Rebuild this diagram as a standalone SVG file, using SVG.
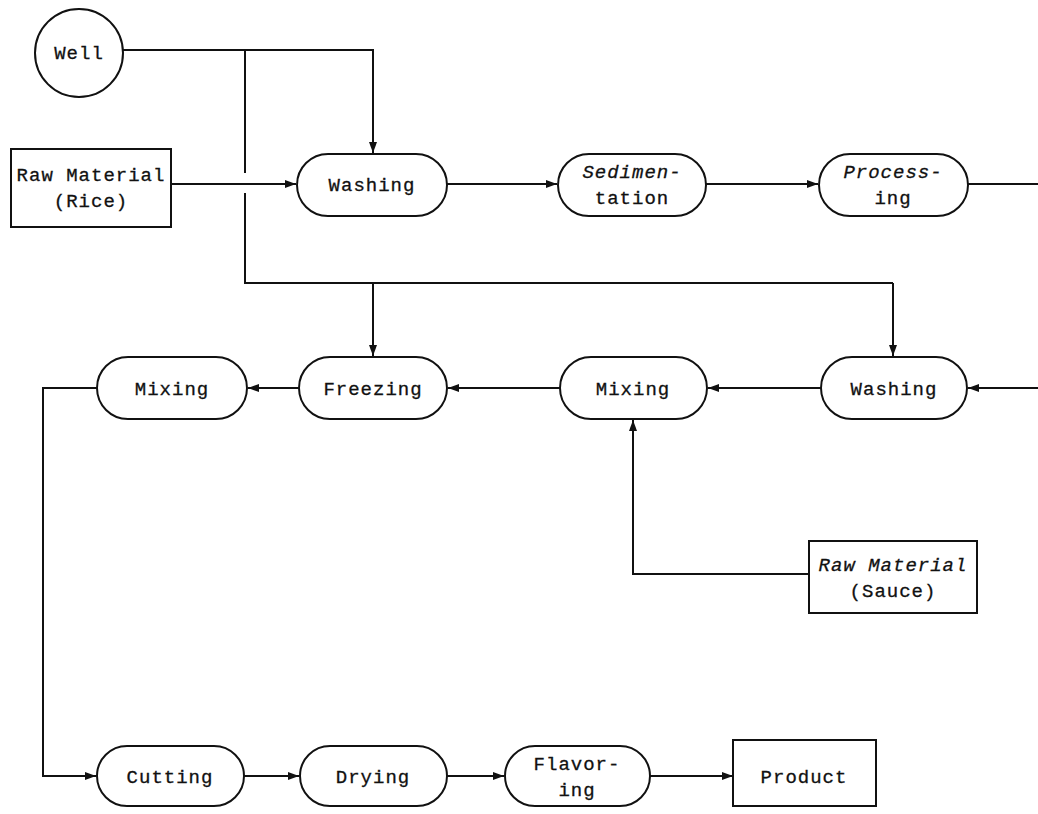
<svg xmlns="http://www.w3.org/2000/svg" width="1038" height="814" viewBox="0 0 1038 814">
  <defs>
    <marker id="arrow" viewBox="0 0 11 8" refX="11" refY="4" markerWidth="11" markerHeight="8" markerUnits="userSpaceOnUse" orient="auto">
      <path d="M0,0 L11,4 L0,8 z" fill="#111"/>
    </marker>
    <style>
      .shape { fill: #fff; stroke: #111; stroke-width: 2; }
      .label { font-family: "Liberation Mono", "DejaVu Sans Mono", monospace; font-size: 19px; letter-spacing: 1px; fill: #111; stroke: #111; stroke-width: 0.3; text-anchor: middle; }
      .it { font-style: italic; }
      .wire { fill: none; stroke: #111; stroke-width: 2; }
      .flow { fill: none; stroke: #111; stroke-width: 2; marker-end: url(#arrow); }
    </style>
  </defs>
  <rect width="1038" height="814" fill="#fff"/>

  <!-- connectors -->
  <g id="connectors">
    <!-- water supply from the well -->
    <polyline class="flow" points="123,50 373,50 373,153"/>
    <polyline class="wire" points="245,50 245,173"/>
    <polyline class="wire" points="245,193 245,283 893,283"/>
    <polyline class="flow" points="893,283 893,356"/>
    <polyline class="flow" points="373,283 373,356"/>
    <!-- upper line -->
    <line class="flow" x1="171" y1="184" x2="296" y2="184"/>
    <line class="flow" x1="447" y1="184" x2="557" y2="184"/>
    <line class="flow" x1="706" y1="184" x2="818" y2="184"/>
    <line class="wire" x1="968" y1="184" x2="1038" y2="184"/>
    <!-- middle line, right to left -->
    <line class="flow" x1="1038" y1="388" x2="968" y2="388"/>
    <line class="flow" x1="821" y1="388" x2="708" y2="388"/>
    <line class="flow" x1="560" y1="388" x2="448" y2="388"/>
    <line class="flow" x1="299" y1="388" x2="248" y2="388"/>
    <polyline class="flow" points="97,388 43,388 43,776 96,776"/>
    <!-- sauce feed -->
    <polyline class="flow" points="809,574 633,574 633,420"/>
    <!-- lower line -->
    <line class="flow" x1="244" y1="776" x2="299" y2="776"/>
    <line class="flow" x1="447" y1="776" x2="504" y2="776"/>
    <line class="flow" x1="650" y1="776" x2="733" y2="776"/>
  </g>

  <g id="well">
    <circle class="shape" cx="79" cy="53" r="44"/>
    <text class="label" x="79" y="59">Well</text>
  </g>
  <g id="rice">
    <rect class="shape" x="11" y="149" width="160" height="78"/>
    <text class="label" x="91" y="181">Raw Material</text>
    <text class="label" x="91" y="207">(Rice)</text>
  </g>
  <g id="washing1">
    <rect class="shape" x="297" y="154" width="150" height="62" rx="31"/>
    <text class="label" x="372" y="191">Washing</text>
  </g>
  <g id="sedimentation">
    <rect class="shape" x="558" y="154" width="148" height="62" rx="31"/>
    <text class="label it" x="632" y="178">Sedimen-</text>
    <text class="label" x="632" y="204">tation</text>
  </g>
  <g id="processing">
    <rect class="shape" x="819" y="154" width="149" height="62" rx="31"/>
    <text class="label it" x="893" y="178">Process-</text>
    <text class="label" x="893" y="204">ing</text>
  </g>

  <g id="washing2">
    <rect class="shape" x="821" y="357" width="146" height="62" rx="31"/>
    <text class="label" x="894" y="395">Washing</text>
  </g>
  <g id="mixing1">
    <rect class="shape" x="560" y="357" width="147" height="62" rx="31"/>
    <text class="label" x="633" y="395">Mixing</text>
  </g>
  <g id="freezing">
    <rect class="shape" x="299" y="357" width="148" height="62" rx="31"/>
    <text class="label" x="373" y="395">Freezing</text>
  </g>
  <g id="mixing2">
    <rect class="shape" x="97" y="357" width="150" height="62" rx="31"/>
    <text class="label" x="172" y="395">Mixing</text>
  </g>
  <g id="sauce">
    <rect class="shape" x="809" y="541" width="168" height="72"/>
    <text class="label it" x="893" y="571">Raw Material</text>
    <text class="label" x="893" y="597">(Sauce)</text>
  </g>

  <g id="cutting">
    <rect class="shape" x="97" y="746" width="147" height="60" rx="30"/>
    <text class="label" x="170" y="783">Cutting</text>
  </g>
  <g id="drying">
    <rect class="shape" x="300" y="746" width="147" height="60" rx="30"/>
    <text class="label" x="373" y="783">Drying</text>
  </g>
  <g id="flavoring">
    <rect class="shape" x="505" y="746" width="145" height="60" rx="30"/>
    <text class="label" x="577" y="770">Flavor-</text>
    <text class="label" x="577" y="796">ing</text>
  </g>
  <g id="product">
    <rect class="shape" x="733" y="740" width="143" height="66"/>
    <text class="label" x="804" y="783">Product</text>
  </g>
</svg>
